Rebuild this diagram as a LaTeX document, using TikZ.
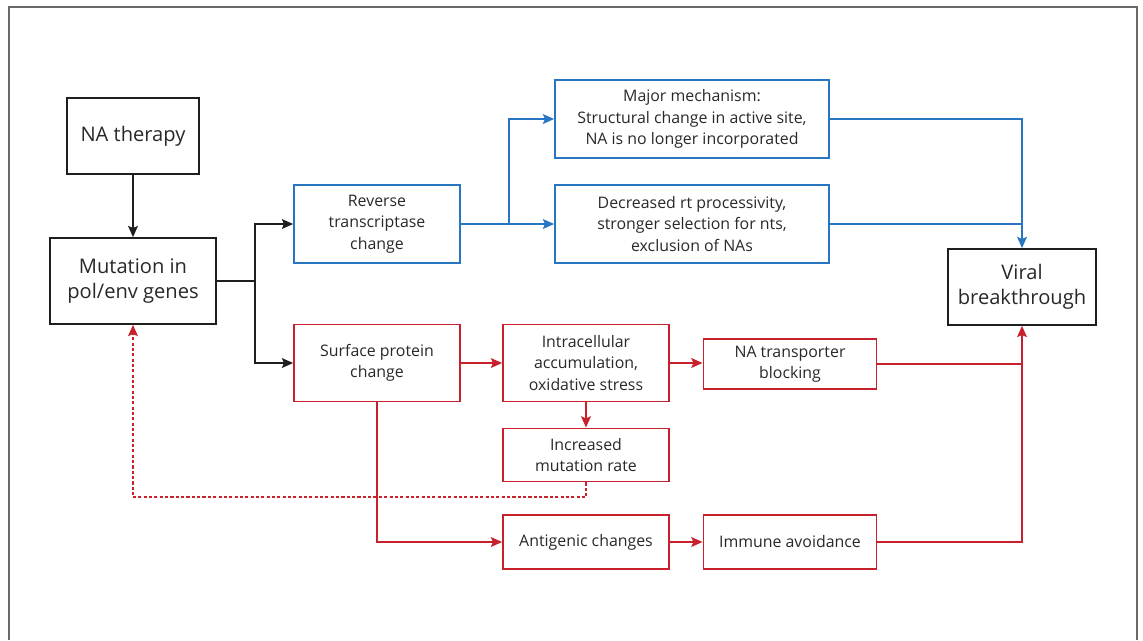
\documentclass[tikz,border=0pt]{standalone}
\usepackage{fontspec}
\setmainfont{Open Sans}
\usetikzlibrary{arrows.meta,positioning,calc}
\definecolor{rtblue}{RGB}{40,118,194}
\definecolor{spred}{RGB}{200,32,44}
\definecolor{boxblack}{RGB}{30,30,30}
\definecolor{framegray}{RGB}{105,105,105}
\definecolor{textgray}{RGB}{40,40,40}

\tikzset{
  box/.style={draw, rectangle, line width=1.2pt, inner sep=0pt, align=center,
    text=textgray, font=\fontsize{11.3}{15.2}\selectfont},
  mainbox/.style={box, draw=boxblack, font=\fontsize{14.3}{17.7}\selectfont},
  bluebox/.style={box, draw=rtblue},
  redbox/.style={box, draw=spred},
  link/.style={line width=1.2pt, -{Stealth[length=8pt,width=7pt,inset=1.5pt]}},
  plain/.style={line width=1.2pt},
}

\begin{document}
\begin{tikzpicture}[x=0.025cm, y=-0.025cm]

% Page size and frame
\useasboundingbox (0,0) rectangle (1143,640);
\draw[framegray, line width=1pt] (9,640) -- (9,7) -- (1137,7) -- (1137,640);

% Black boxes
\node[mainbox, minimum width=3.3cm, minimum height=1.9cm] (na) at (133,136) {NA therapy};
\node[mainbox, minimum width=4.15cm, minimum height=2.15cm] (mut) at (133,281) {Mutation in\\pol/env genes};
\node[mainbox, minimum width=3.7cm, minimum height=1.9cm] (viral) at (1022,287) {Viral\\breakthrough};

% Blue branch
\node[bluebox, minimum width=4.15cm, minimum height=1.95cm] (rt) at (377,224) {Reverse\\transcriptase\\change};
\node[bluebox, minimum width=6.85cm, minimum height=1.95cm] (major) at (692,119) {Major mechanism:\\Structural change in active site,\\NA is no longer incorporated};
\node[bluebox, minimum width=6.85cm, minimum height=1.95cm] (dec) at (692,224) {Decreased rt processivity,\\stronger selection for nts,\\exclusion of NAs};

% Red branch
\node[redbox, minimum width=4.15cm, minimum height=1.93cm] (sp) at (377,363) {Surface protein\\change};
\node[redbox, minimum width=4.15cm, minimum height=1.93cm] (icell) at (586,363) {Intracellular\\accumulation,\\oxidative stress};
\node[redbox, minimum width=4.33cm, minimum height=1.25cm] (nat) at (790,364) {NA transporter\\blocking};
\node[redbox, minimum width=4.15cm, minimum height=1.33cm] (inc) at (586,455) {Increased\\mutation rate};
\node[redbox, minimum width=4.15cm, minimum height=1.35cm] (ag) at (586,542) {Antigenic changes};
\node[redbox, minimum width=4.33cm, minimum height=1.35cm] (imm) at (790,542) {Immune avoidance};

% Split points
\coordinate (mutsplit) at (255,281);
\coordinate (rtsplit) at (509,224);

% Black connectors
\draw[link, boxblack] (na) -- (mut);
\draw[plain, boxblack] (mut.east) -- (mutsplit);
\draw[link, boxblack] (mutsplit) |- (rt.west);
\draw[link, boxblack] (mutsplit) |- (sp.west);

% Blue connectors
\draw[link, rtblue] (rt.east) -- (dec.west);
\draw[link, rtblue] (rtsplit) |- (major.west);
\draw[link, rtblue] (major.east) -| (viral.north);
\draw[plain, rtblue] (dec.east) -- (dec.east -| viral.north);

% Red connectors
\draw[link, spred] (sp) -- (icell);
\draw[link, spred] (icell.east) -- (icell.east -| nat.west);
\draw[link, spred] (icell) -- (inc);
\draw[link, spred] (sp.south) |- (ag.west);
\draw[link, spred] (ag) -- (imm);
\draw[plain, spred] (nat.east) -- (nat.east -| viral.south);
\draw[link, spred] (imm.east) -| (viral.south);

% Feedback loop
\draw[link, spred, line width=1.4pt, dash pattern=on 2.2pt off 1.6pt] (inc.south) -- ++(0,15) -| (mut.south);

\end{tikzpicture}
\end{document}
